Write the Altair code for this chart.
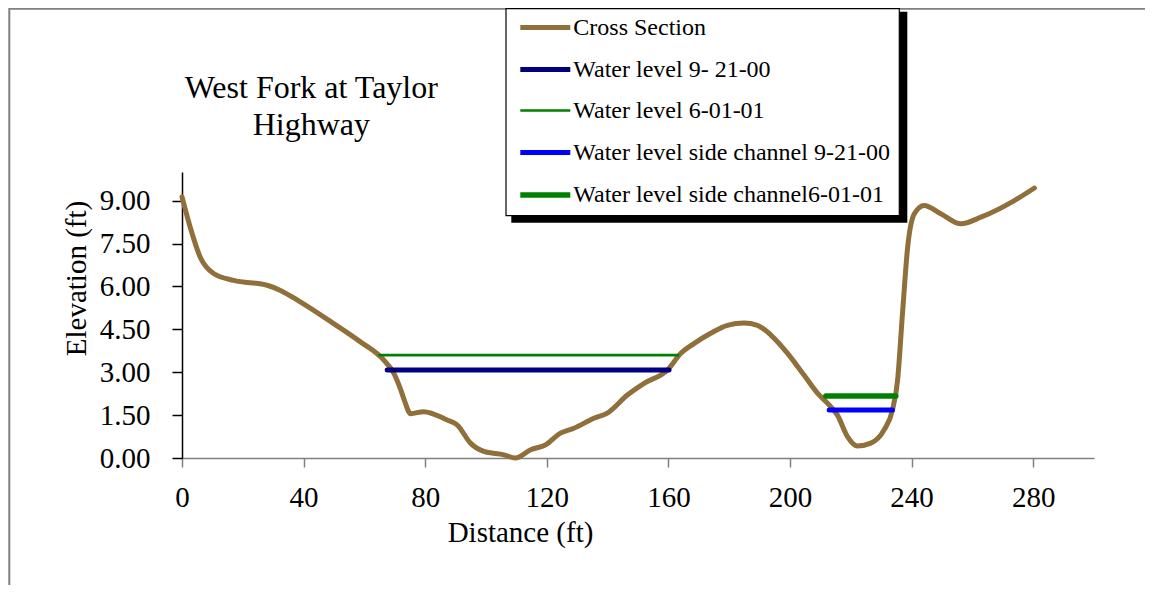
import altair as alt
import pandas as pd

# ---- data ----
cs_x = [0, 2.7, 6, 10.4, 17, 28, 32.4, 38.9, 49.9, 58.7, 66.4, 69.7, 71.9, 73.2, 75.2,
        79.5, 87.2, 90.5, 94.9, 99.3, 105.9, 109.7, 114.7, 119.6, 124.5, 128.9, 135.5,
        139.9, 146.5, 152, 159.7, 164.1, 168.4, 173.9, 179.4, 184.9, 189.3, 193.7, 199.2,
        204.6, 209.1, 212.3, 215.6, 218.9, 222.2, 226.6, 231, 233.7, 235.4, 237, 238.7,
        240.9, 244.1, 249.6, 256.2, 262.8, 273.8, 280.4]
cs_y = [9.13, 8.07, 7.02, 6.45, 6.21, 6.04, 5.86, 5.46, 4.7, 4.06, 3.42, 2.96, 2.4, 2.0, 1.55,
        1.62, 1.33, 1.16, 0.52, 0.23, 0.11, 0.0, 0.29, 0.46, 0.87, 1.04, 1.39,
        1.57, 2.2, 2.61, 3.08, 3.66, 4.0, 4.36, 4.64, 4.72, 4.64, 4.3, 3.66,
        2.9, 2.26, 1.92, 1.5, 0.75, 0.42, 0.52, 0.99, 1.68, 2.73, 5.05, 7.37,
        8.54, 8.83, 8.54, 8.19, 8.42, 9.0, 9.44]

series_names = ["Cross Section", "Water level 9- 21-00", "Water level 6-01-01",
                "Water level side channel 9-21-00", "Water level side channel6-01-01"]
series_colors = ["#8F6F3A", "#000080", "#008000", "#0000FF", "#008000"]
series_widths = [5, 5, 2.7, 5, 5.5]

wl_names = series_names[1:]
wl_x1 = [67.5, 65.0, 212.9, 211.8]
wl_x2 = [160.2, 163.2, 233.7, 234.8]
wl_y = [3.08, 3.6, 1.68, 2.17]

x_ticks = [0, 40, 80, 120, 160, 200, 240, 280]
y_ticks = [0, 1.5, 3, 4.5, 6, 7.5, 9]

title_lines = ["West Fork at Taylor", "Highway"]

rows = [{"series": series_names[0], "x": x, "y": y} for x, y in zip(cs_x, cs_y)]
for n, a, b, v in zip(wl_names, wl_x1, wl_x2, wl_y):
    rows.append({"series": n, "x": a, "y": v})
    rows.append({"series": n, "x": b, "y": v})
df = pd.DataFrame(rows)

FONT = "Liberation Serif"
one = pd.DataFrame({"k": [0]})
OX, OY = 181.7, 172.3  # plot origin on page

frame = alt.Chart(one).mark_rect(fill=None, stroke="#808080", strokeWidth=2).encode(
    x=alt.value(9 - OX), y=alt.value(9 - OY), x2=alt.value(1300), y2=alt.value(700))

shadow = alt.Chart(one).mark_rect(fill="black").encode(
    x=alt.value(511 - OX), x2=alt.value(907 - OX),
    y=alt.value(12 - OY), y2=alt.value(223 - OY))
box = alt.Chart(one).mark_rect(fill="white", stroke="black", strokeWidth=1.2).encode(
    x=alt.value(505.7 - OX), x2=alt.value(899 - OX),
    y=alt.value(9 - OY), y2=alt.value(216 - OY))

title = alt.Chart(one).mark_text(text=title_lines, font=FONT, fontSize=32, align="center",
                                 baseline="alphabetic", lineHeight=37, color="black").encode(
    x=alt.value(311 - OX), y=alt.value(98 - OY))

leg = dict(title=None, orient="none", legendX=338.3 - 3, legendY=-172,
           symbolType="stroke", symbolSize=2500, labelFont=FONT, labelFontSize=24,
           labelLimit=500, rowPadding=2, labelOffset=0, padding=0, zindex=1,
           labelColor="black")

lines = alt.Chart(df).mark_line(interpolate="monotone", strokeCap="round", clip=False).encode(
    x=alt.X("x:Q", scale=alt.Scale(domain=[0, 300], nice=False, zero=False),
            axis=alt.Axis(values=x_ticks, title="Distance (ft)", grid=False,
                          domainColor="#808080", domainWidth=1.5, tickColor="#808080",
                          tickWidth=1.5, tickSize=9, labelFontSize=29, labelFont=FONT,
                          labelBaseline="alphabetic", labelPadding=39, labelColor="black",
                          titleFont=FONT, titleFontSize=29, titleFontWeight="normal",
                          titleX=338, titleY=83, titleBaseline="alphabetic",
                          titleAlign="center", titleColor="black", labelFlush=False)),
    y=alt.Y("y:Q", scale=alt.Scale(domain=[0, 10], nice=False),
            axis=alt.Axis(values=y_ticks, format=".2f", title="Elevation (ft)", grid=False,
                          domainColor="black", domainWidth=1.5, tickColor="black",
                          tickWidth=1.5, tickSize=10, labelFontSize=29, labelFont=FONT,
                          labelPadding=22, labelColor="black",
                          titleFont=FONT, titleFontSize=29, titleFontWeight="normal",
                          titleX=-97, titleY=106, titleAngle=270, titleBaseline="alphabetic",
                          titleAlign="center", titleColor="black", labelFlush=False)),
    color=alt.Color("series:N", scale=alt.Scale(domain=series_names, range=series_colors),
                    legend=alt.Legend(**leg)),
    strokeWidth=alt.StrokeWidth("series:N",
                                scale=alt.Scale(type="ordinal", domain=series_names, range=series_widths),
                                legend=alt.Legend(**leg)),
    detail="series:N",
    order="x:Q",
)

chart = alt.layer(frame, lines, shadow, box, title).properties(
    width=912, height=286,
    padding={"left": 174, "top": 164, "right": 51, "bottom": 127},
    autosize=alt.AutoSizeParams(type="none"),
    background="white",
).configure_view(stroke=None)

chart.save("out.html", embed_options={"renderer": "svg", "actions": False})
